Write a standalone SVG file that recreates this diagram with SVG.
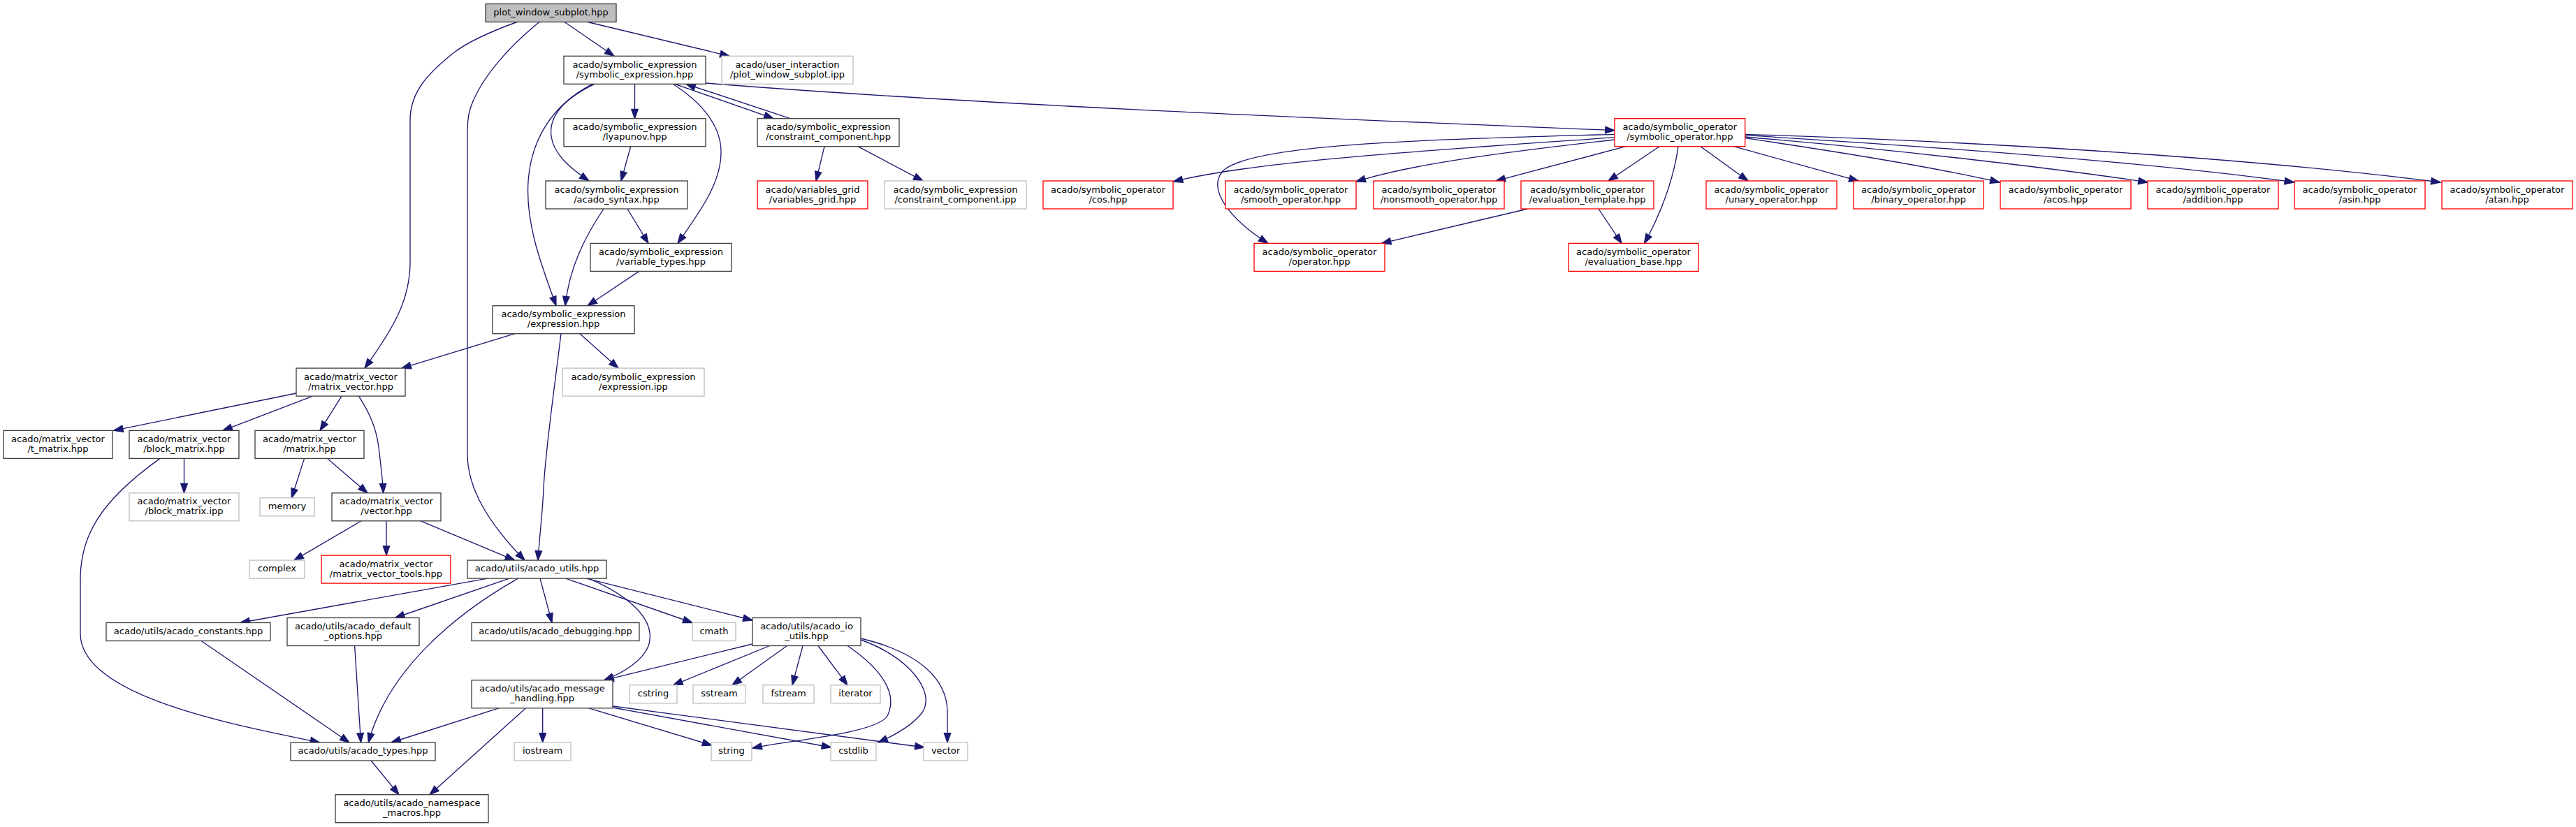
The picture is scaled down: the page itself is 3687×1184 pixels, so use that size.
<svg xmlns="http://www.w3.org/2000/svg" width="3687" height="1184" viewBox="0 0 3687 1184">
<style>
.n rect{fill:#fff;stroke:#404040;stroke-width:1.33}
.n.g rect{stroke:#bfbfbf}
.n.r rect{stroke:#ff0000}
.n.root rect{fill:#bfbfbf}
text{font-family:"DejaVu Sans",sans-serif;font-size:13px;text-anchor:middle;fill:#000}
#edges path{fill:none;stroke:#191970;stroke-width:1.33;marker-end:url(#a)}
</style>
<defs>
<marker id="a" markerUnits="userSpaceOnUse" markerWidth="16" markerHeight="12" viewBox="-1 -6 16 12" refX="13.3" refY="0" orient="auto" overflow="visible">
<path d="M0,-4.7 L13.3,0 L0,4.7 z" fill="#191970" stroke="#191970" stroke-width="1.33"/>
</marker>
</defs>
<rect width="3687" height="1184" fill="#fff"/>
<g id="edges">
<path d="M808,31.5 L879,80.3"/>
<path d="M841,31.5 L1044,80.3"/>
<path d="M740,31.5 C700,46 670,60 650,75 C615,103 587,130 587,172 L587,375 C587,430 563,470 522,527.1"/>
<path d="M772,31.5 C730,65 690,110 675,150 C669,165 669,180 669,200 L669,650 C669,700 700,750 751,802.1"/>
<path d="M908.5,120.3 L908.5,169.7"/>
<path d="M851,120.3 C810,140 785,165 789,195 C792,220 815,240 843,259"/>
<path d="M848,120.3 C790,150 760,200 756,260 C752,320 775,380 796,437.7"/>
<path d="M963,120.3 C1010,150 1033,185 1032,220 C1031,265 1000,305 970,348.4"/>
<path d="M966,120.3 L1107,169.7"/>
<path d="M1131,169.7 L982,120.3"/>
<path d="M1009.6,119 C1400,150 1900,170 2311,186.7"/>
<path d="M1180,209.7 L1168,259"/>
<path d="M1228,209.7 L1321,259"/>
<path d="M902.7,209.7 L889,259"/>
<path d="M898,299 L928,348.4"/>
<path d="M864,299 C840,335 815,380 809,437.7"/>
<path d="M914.7,388.4 L841,437.7"/>
<path d="M737,477.7 L575,527.1"/>
<path d="M830,477.7 L885,527.1"/>
<path d="M803,477.7 C793,560 780,650 778,700 C776,740 772,770 770,802.1"/>
<path d="M424,563 L162.7,616.4"/>
<path d="M447.6,567.1 L319,616.4"/>
<path d="M489,567.1 L458,616.4"/>
<path d="M513.5,567.1 C528,590 538,610 542,640 C545,665 548,690 548.6,705.8"/>
<path d="M263.5,656.4 L263.5,705.8"/>
<path d="M229,656.4 C140,720 115,770 115,830 L115,907 C115,1000 350,1040 457.6,1063"/>
<path d="M435.6,656.4 L417.4,712.8"/>
<path d="M468.6,656.4 L526,705.8"/>
<path d="M517,745.8 L421,802.1"/>
<path d="M553,745.8 L553,795.1"/>
<path d="M602,745.8 L736.6,802.1"/>
<path d="M698,828.1 L344,891.5"/>
<path d="M729,828.1 L565.5,884.5"/>
<path d="M741.5,828.1 C650,880 555,960 527.4,1063"/>
<path d="M773,828.1 L790,891.5"/>
<path d="M809.7,828.1 L991,891.5"/>
<path d="M839,828.1 L1077,888"/>
<path d="M842.7,828.1 C905,855 940,890 928,925 C920,945 895,962 864.7,973.8"/>
<path d="M288,917.5 L500,1063"/>
<path d="M507.6,924.5 L516.5,1063"/>
<path d="M1077,922 L864.7,973.8"/>
<path d="M1101.6,924.5 L963.7,980.8"/>
<path d="M1126.5,924.5 L1048,980.8"/>
<path d="M1149,924.5 L1134,980.8"/>
<path d="M1171,924.5 L1213,980.8"/>
<path d="M1213,924.5 C1265,960 1285,995 1270,1025 C1255,1050 1130,1060 1077,1071"/>
<path d="M1232,916 C1300,940 1340,990 1320,1020 C1305,1040 1275,1055 1257,1063"/>
<path d="M1232,914 C1320,935 1356,975 1356,1020 L1356,1063"/>
<path d="M714,1013.8 L560,1063"/>
<path d="M752.5,1013.8 L615,1137.7"/>
<path d="M776.7,1013.8 L776.7,1063"/>
<path d="M842.7,1013.8 L1018.7,1067"/>
<path d="M877,1013 L1189.6,1070"/>
<path d="M877,1011 L1323,1070"/>
<path d="M531,1089 L571,1137.7"/>
<path d="M2311,196.7 C2050,215 1800,230 1679.4,260"/>
<path d="M2311,200 C2150,218 2020,235 1941,260"/>
<path d="M2326.7,209.7 L2141,259"/>
<path d="M2375,209.7 L2302,259"/>
<path d="M2402,209.7 C2395,260 2375,310 2353.5,348.4"/>
<path d="M2311,192.3 C2050,200 1790,205 1750,245 C1725,275 1770,320 1815,348.4"/>
<path d="M2434,209.7 L2502,259"/>
<path d="M2481.7,209.7 L2660,259"/>
<path d="M2497.7,197.7 C2650,220 2780,242 2862,261"/>
<path d="M2497.7,196 C2720,215 2950,242 3074,261"/>
<path d="M2497.7,193.7 C2800,212 3100,235 3283.5,261"/>
<path d="M2497.7,192.3 C2900,205 3250,230 3493,261"/>
<path d="M2186.6,299 L1977.5,348.4"/>
<path d="M2288,299 L2321,348.4"/>
</g>
<g id="pw" class="n root"><rect x="695" y="5.5" width="187" height="26"/><text x="788.5" y="21.5">plot_window_subplot.hpp</text></g>
<g id="se" class="n"><rect x="807" y="80.3" width="203" height="40"/><text x="908.5" y="96.8">acado/symbolic_expression</text><text x="908.5" y="110.8">/symbolic_expression.hpp</text></g>
<g id="ui" class="n g"><rect x="1033" y="80.3" width="188" height="40"/><text x="1127" y="96.8">acado/user_interaction</text><text x="1127" y="110.8">/plot_window_subplot.ipp</text></g>
<g id="lyap" class="n"><rect x="807" y="169.7" width="203" height="40"/><text x="908.5" y="186.2">acado/symbolic_expression</text><text x="908.5" y="200.2">/lyapunov.hpp</text></g>
<g id="cc" class="n"><rect x="1084" y="169.7" width="203" height="40"/><text x="1185.5" y="186.2">acado/symbolic_expression</text><text x="1185.5" y="200.2">/constraint_component.hpp</text></g>
<g id="so" class="n r"><rect x="2311" y="169.7" width="186.7" height="40"/><text x="2404.3" y="186.2">acado/symbolic_operator</text><text x="2404.3" y="200.2">/symbolic_operator.hpp</text></g>
<g id="syn" class="n"><rect x="781" y="259" width="203" height="40"/><text x="882.5" y="275.5">acado/symbolic_expression</text><text x="882.5" y="289.5">/acado_syntax.hpp</text></g>
<g id="vg" class="n r"><rect x="1084" y="259" width="158" height="40"/><text x="1163" y="275.5">acado/variables_grid</text><text x="1163" y="289.5">/variables_grid.hpp</text></g>
<g id="ccipp" class="n g"><rect x="1266" y="259" width="203" height="40"/><text x="1367.5" y="275.5">acado/symbolic_expression</text><text x="1367.5" y="289.5">/constraint_component.ipp</text></g>
<g id="cos" class="n r"><rect x="1493" y="259" width="186" height="40"/><text x="1586" y="275.5">acado/symbolic_operator</text><text x="1586" y="289.5">/cos.hpp</text></g>
<g id="smooth" class="n r"><rect x="1754" y="259" width="187" height="40"/><text x="1847.5" y="275.5">acado/symbolic_operator</text><text x="1847.5" y="289.5">/smooth_operator.hpp</text></g>
<g id="nonsmooth" class="n r"><rect x="1966" y="259" width="187" height="40"/><text x="2059.5" y="275.5">acado/symbolic_operator</text><text x="2059.5" y="289.5">/nonsmooth_operator.hpp</text></g>
<g id="evt" class="n r"><rect x="2177" y="259" width="190" height="40"/><text x="2272" y="275.5">acado/symbolic_operator</text><text x="2272" y="289.5">/evaluation_template.hpp</text></g>
<g id="unary" class="n r"><rect x="2442" y="259" width="187" height="40"/><text x="2535.5" y="275.5">acado/symbolic_operator</text><text x="2535.5" y="289.5">/unary_operator.hpp</text></g>
<g id="binary" class="n r"><rect x="2653" y="259" width="186" height="40"/><text x="2746" y="275.5">acado/symbolic_operator</text><text x="2746" y="289.5">/binary_operator.hpp</text></g>
<g id="acos" class="n r"><rect x="2863" y="259" width="187" height="40"/><text x="2956.5" y="275.5">acado/symbolic_operator</text><text x="2956.5" y="289.5">/acos.hpp</text></g>
<g id="addition" class="n r"><rect x="3074" y="259" width="187" height="40"/><text x="3167.5" y="275.5">acado/symbolic_operator</text><text x="3167.5" y="289.5">/addition.hpp</text></g>
<g id="asin" class="n r"><rect x="3284" y="259" width="187" height="40"/><text x="3377.5" y="275.5">acado/symbolic_operator</text><text x="3377.5" y="289.5">/asin.hpp</text></g>
<g id="atan" class="n r"><rect x="3495" y="259" width="187" height="40"/><text x="3588.5" y="275.5">acado/symbolic_operator</text><text x="3588.5" y="289.5">/atan.hpp</text></g>
<g id="vt" class="n"><rect x="845" y="348.4" width="202" height="40"/><text x="946" y="364.9">acado/symbolic_expression</text><text x="946" y="378.9">/variable_types.hpp</text></g>
<g id="op" class="n r"><rect x="1795" y="348.4" width="187" height="40"/><text x="1888.5" y="364.9">acado/symbolic_operator</text><text x="1888.5" y="378.9">/operator.hpp</text></g>
<g id="evb" class="n r"><rect x="2245" y="348.4" width="186" height="40"/><text x="2338" y="364.9">acado/symbolic_operator</text><text x="2338" y="378.9">/evaluation_base.hpp</text></g>
<g id="expr" class="n"><rect x="705" y="437.7" width="203" height="40"/><text x="806.5" y="454.2">acado/symbolic_expression</text><text x="806.5" y="468.2">/expression.hpp</text></g>
<g id="mv" class="n"><rect x="424" y="527.1" width="156" height="40"/><text x="502" y="543.6">acado/matrix_vector</text><text x="502" y="557.6">/matrix_vector.hpp</text></g>
<g id="eipp" class="n g"><rect x="805" y="527.1" width="203" height="40"/><text x="906.5" y="543.6">acado/symbolic_expression</text><text x="906.5" y="557.6">/expression.ipp</text></g>
<g id="tm" class="n"><rect x="5" y="616.4" width="156" height="40"/><text x="83" y="632.9">acado/matrix_vector</text><text x="83" y="646.9">/t_matrix.hpp</text></g>
<g id="bm" class="n"><rect x="185" y="616.4" width="157" height="40"/><text x="263.5" y="632.9">acado/matrix_vector</text><text x="263.5" y="646.9">/block_matrix.hpp</text></g>
<g id="mat" class="n"><rect x="365" y="616.4" width="156" height="40"/><text x="443" y="632.9">acado/matrix_vector</text><text x="443" y="646.9">/matrix.hpp</text></g>
<g id="bipp" class="n g"><rect x="185" y="705.8" width="157" height="40"/><text x="263.5" y="722.3">acado/matrix_vector</text><text x="263.5" y="736.3">/block_matrix.ipp</text></g>
<g id="mem" class="n g"><rect x="372" y="712.8" width="78" height="26"/><text x="411" y="728.8">memory</text></g>
<g id="vec" class="n"><rect x="475" y="705.8" width="156" height="40"/><text x="553" y="722.3">acado/matrix_vector</text><text x="553" y="736.3">/vector.hpp</text></g>
<g id="cplx" class="n g"><rect x="357" y="802.1" width="79" height="26"/><text x="396.5" y="818.1">complex</text></g>
<g id="mvt" class="n r"><rect x="460" y="795.1" width="185" height="40"/><text x="552.5" y="811.6">acado/matrix_vector</text><text x="552.5" y="825.6">/matrix_vector_tools.hpp</text></g>
<g id="au" class="n"><rect x="669" y="802.1" width="199" height="26"/><text x="768.5" y="818.1">acado/utils/acado_utils.hpp</text></g>
<g id="const" class="n"><rect x="152" y="891.5" width="235" height="26"/><text x="269.5" y="907.5">acado/utils/acado_constants.hpp</text></g>
<g id="def" class="n"><rect x="411" y="884.5" width="189" height="40"/><text x="505.5" y="901">acado/utils/acado_default</text><text x="505.5" y="915">_options.hpp</text></g>
<g id="dbg" class="n"><rect x="675" y="891.5" width="240" height="26"/><text x="795" y="907.5">acado/utils/acado_debugging.hpp</text></g>
<g id="cmath" class="n g"><rect x="991" y="891.5" width="62" height="26"/><text x="1022" y="907.5">cmath</text></g>
<g id="io" class="n"><rect x="1077" y="884.5" width="155" height="40"/><text x="1154.5" y="901">acado/utils/acado_io</text><text x="1154.5" y="915">_utils.hpp</text></g>
<g id="msg" class="n"><rect x="675" y="973.8" width="202" height="40"/><text x="776" y="990.3">acado/utils/acado_message</text><text x="776" y="1004.3">_handling.hpp</text></g>
<g id="cstring" class="n g"><rect x="901" y="980.8" width="68" height="26"/><text x="935" y="996.8">cstring</text></g>
<g id="sstream" class="n g"><rect x="992" y="980.8" width="75" height="26"/><text x="1029.5" y="996.8">sstream</text></g>
<g id="fstream" class="n g"><rect x="1092" y="980.8" width="73" height="26"/><text x="1128.5" y="996.8">fstream</text></g>
<g id="iter" class="n g"><rect x="1189" y="980.8" width="71" height="26"/><text x="1224.5" y="996.8">iterator</text></g>
<g id="types" class="n"><rect x="416" y="1063" width="207" height="26"/><text x="519.5" y="1079">acado/utils/acado_types.hpp</text></g>
<g id="iostream" class="n g"><rect x="736" y="1063" width="81" height="26"/><text x="776.5" y="1079">iostream</text></g>
<g id="string" class="n g"><rect x="1018" y="1063" width="58" height="26"/><text x="1047" y="1079">string</text></g>
<g id="cstdlib" class="n g"><rect x="1189" y="1063" width="65" height="26"/><text x="1221.5" y="1079">cstdlib</text></g>
<g id="vector" class="n g"><rect x="1322" y="1063" width="63" height="26"/><text x="1353.5" y="1079">vector</text></g>
<g id="ns" class="n"><rect x="480" y="1137.7" width="219" height="40"/><text x="589.5" y="1154.2">acado/utils/acado_namespace</text><text x="589.5" y="1168.2">_macros.hpp</text></g>
</svg>
